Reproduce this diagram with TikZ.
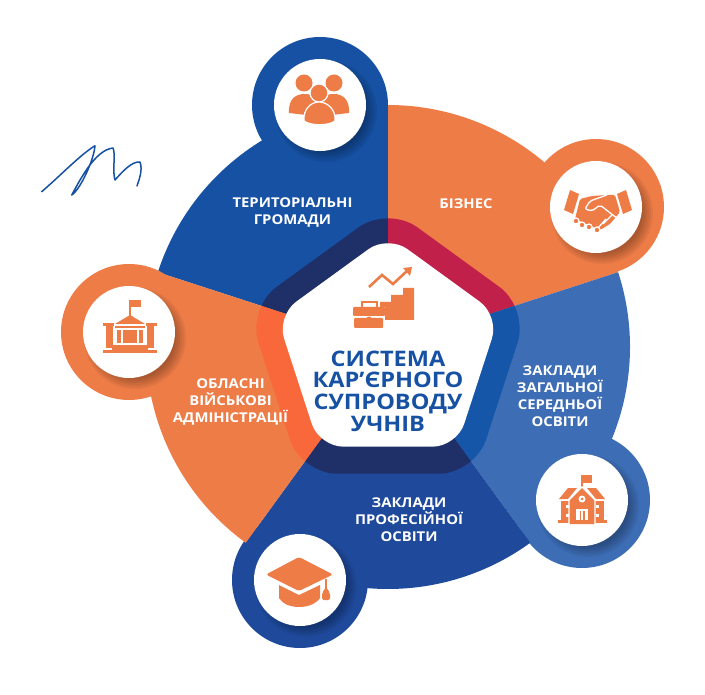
\documentclass[tikz,border=0pt]{standalone}
\usepackage{fontspec}
\setmainfont{Open Sans}[BoldFeatures={FakeStretch=1.1}]
\usetikzlibrary{math}
\definecolor{orangeS}{HTML}{EE7C47}
\definecolor{blueT}{HTML}{1651A3}
\definecolor{blueR}{HTML}{3D6DB5}
\definecolor{blueB}{HTML}{1F4A9C}
\definecolor{bandDark}{HTML}{1F3068}
\definecolor{bandRed}{HTML}{C0204A}
\definecolor{bandBlue}{HTML}{1656A8}
\definecolor{bandOrange}{HTML}{F9683A}
\tikzstyle{lbl} = [text=white, align=center, inner sep=0mm, font=\bfseries\fontsize{13.5}{17}\selectfont]
\tikzstyle{title} = [text=blueT, align=center, inner sep=0mm, font=\bfseries\fontsize{21.4}{21.7}\selectfont]
\tikzstyle{ico} = [fill=orangeS]
\tikzstyle{gap} = [draw=white, line width=1.2pt]
\newcommand{\penta}[1]{(-90:#1) -- (-18:#1) -- (54:#1) -- (126:#1) -- (198:#1) -- cycle}

\begin{document}
\begin{tikzpicture}[x=1pt, y=-1pt]
    \useasboundingbox (0,0) rectangle (705,695);

    % sectors of the wheel, angles run clockwise on the page because y is flipped
    \foreach \a/\b/\bx/\by/\c in {-90/-162/320/105/blueT, -18/-90/596/207/orangeS, 54/-18/582/500/blueR, 126/54/300/580/blueB, 198/126/129/332/orangeS} {
        \fill[\c] (388,347) -- ++(\a:242) arc[start angle=\a, end angle=\b, radius=242] -- cycle;
        \fill[\c] (\bx,\by) circle (68);
    }

    % white discs with their soft shadow
    \foreach \bx/\by in {320/105, 596/207, 582/500, 300/580, 129/332} {
        \foreach \r in {41,43,...,51}
            \fill[black, opacity=.05] (\bx+6,\by+6) circle (\r);
        \fill[white] (\bx,\by) circle (46);
    }

    % band round the centre
    \begin{scope}[shift={(388,354)}]
        \clip[rounded corners=36] \penta{148};
        \foreach \a/\b/\c in {-90/-162/bandDark, -18/-90/bandRed, 54/-18/bandBlue, 126/54/bandDark, 198/126/bandOrange}
            \fill[\c] (0,-7) -- ++(\a:260) arc[start angle=\a, end angle=\b, radius=260] -- cycle;
    \end{scope}
    \fill[white, rounded corners=24, shift={(388,352)}] \penta{117};

    % centre icon
    \fill[ico] (385,320) -- (414,320) -- (414,288) -- (403,288) -- (403,295) -- (391,295) -- (391,302) -- (380,302) -- (380,307) -- (385,307) -- cycle;
    \draw[orangeS, line width=2.6pt] (369,287) -- (382,275) -- (393,284) -- (407,271);
    \fill[ico] (403,268) -- (412,267) -- (410,276) -- cycle;
    \draw[orangeS, line width=1.6pt] (362,307) -- (362,302) -- (377,302) -- (377,307);
    \fill[ico, rounded corners=1] (353,307) rectangle (385,316);
    \fill[ico, rounded corners=1] (354,318) rectangle (383,328);
    \fill[ico] (369,319) circle (2.5);

    % people
    \begin{scope}[shift={(320,105)}]
        \fill[ico] (-16,-22) circle (8.5);
        \fill[ico] (14,-22) circle (8.5);
        \fill[ico] (-31,8) .. controls (-32,-7) and (-23,-11) .. (-16,-11) .. controls (-8,-11) and (-2,-8) .. (0,0) -- (-14,10) -- cycle;
        \fill[ico] (29,8) .. controls (30,-7) and (21,-11) .. (14,-11) .. controls (6,-11) and (0,-8) .. (-2,0) -- (12,10) -- cycle;
        \draw[ico, gap] (-1,-12) circle (9);
        \draw[ico, gap] (-16,16) .. controls (-17,4) and (-9,-3) .. (-1,-3) .. controls (7,-3) and (16,4) .. (15,16) .. controls (8,21) and (-9,21) .. (-16,16) -- cycle;
    \end{scope}

    % handshake
    \begin{scope}[shift={(596,207)}]
        \fill[ico] (-26,-17) -- (-17,-13) -- (-23,7) -- (-32,3) -- cycle;
        \fill[ico] (21,-13) -- (30,-17) -- (36,3) -- (27,7) -- cycle;
        \fill[ico, rounded corners=1.5] (-16,-8) -- (-4,-11) -- (11,-12) -- (19,-12) -- (24,5) -- (14,17) -- (4,23) -- (-21,12) -- cycle;
        \draw[white, line width=1.3pt, rounded corners=2] (11,-12) -- (-6,-6) -- (-11,2) -- (-4,4) -- (4,-2) -- (22,12);
        \draw[white, line width=1.3pt] (7,17) -- (16,8) (1,22) -- (10,12);
        \foreach \x/\y in {-20/14, -14/18, -7/20, 1/23}
            \draw[ico, gap] (\x,\y) circle (3);
    \end{scope}

    % school
    \begin{scope}[shift={(582,500)}]
        \draw[orangeS, line width=1.4pt] (0,-25) -- (0,-11);
        \fill[ico] (0,-25) rectangle (10,-17);
        \fill[ico] (-23,-1) -- (-14,-12) -- (-5,-12) -- (-14,-1) -- cycle;
        \fill[ico] (23,-1) -- (14,-12) -- (5,-12) -- (14,-1) -- cycle;
        \fill[ico] (-21,1) rectangle (22,21);
        \fill[ico] (-24,20) rectangle (25,23);
        \draw[ico, gap] (-13,24) -- (-13,0) -- (0,-13) -- (13,0) -- (13,24);
        \fill[white] (0,-1) circle (3.5);
        \fill[ico] (0,-1) circle (1.5);
        \fill[white] (-6,9) rectangle (6,20);
        \fill[ico] (-2.5,11) rectangle (-1,20);
        \fill[ico] (1,11) rectangle (2.5,20);
        \foreach \x/\y in {-15/6, -15/15, 15/6, 15/15}
            \fill[white] (\x-1.5,\y-1.5) rectangle (\x+1.5,\y+1.5);
    \end{scope}

    % cap
    \begin{scope}[shift={(300,580)}]
        \fill[ico, rounded corners=2.5] (-1,-23) -- (33,-5.5) -- (-1,11) -- (-34,-5.5) -- cycle;
        \fill[ico] (-21,5) -- (-1,15) -- (20,5) -- (20,18) .. controls (12,30) and (-14,30) .. (-21,18) -- cycle;
        \draw[orangeS, line width=1.5pt] (26,-1) -- (26,10);
        \fill[ico, rounded corners=2] (26,7) -- (30,13) -- (30,20) -- (22,20) -- (22,13) -- cycle;
    \end{scope}

    % government building
    \begin{scope}[shift={(129,332)}]
        \fill[ico] (0,-32) rectangle (12,-25);
        \draw[orangeS, line width=1.4pt] (1,-32) -- (1,-15);
        \fill[ico] (-14,-8) -- (1,-17) -- (16,-8) -- cycle;
        \fill[ico] (-14,-6) rectangle (16,-4);
        \fill[ico] (-26,-9) rectangle (-15,-6);
        \fill[ico] (-23,-6) rectangle (-16,16);
        \fill[ico] (17,-9) rectangle (28,-6);
        \fill[ico] (18,-6) rectangle (25,16);
        \fill[ico] (-6,-2) rectangle (8,11);
        \fill[ico] (-12,-2) rectangle (-8,11);
        \fill[ico] (10,-2) rectangle (14,11);
        \fill[ico] (-17,13) rectangle (19,18);
        \fill[ico] (-26,18) rectangle (28,21);
    \end{scope}

    % labels
    \node[lbl] (terytorii) at (292.5,212.5) {ТЕРИТОРІАЛЬНІ\\ГРОМАДИ};
    \node[lbl] (biznes) at (466,204) {БІЗНЕС};
    \node[lbl] (zahalni) at (560,396) {ЗАКЛАДИ\\ЗАГАЛЬНОЇ\\СЕРЕДНЬОЇ\\ОСВІТИ};
    \node[lbl] (profesiini) at (409,520) {ЗАКЛАДИ\\ПРОФЕСІЙНОЇ\\ОСВІТИ};
    \node[lbl] (oblasni) at (230.5,402) {ОБЛАСНІ\\ВІЙСЬКОВІ\\АДМІНІСТРАЦІЇ};
    \node[title] (systema) at (388,391) {СИСТЕМА\\КАР’ЄРНОГО\\СУПРОВОДУ\\УЧНІВ};

    % signature
    \draw[blueT, line width=1.5pt, line cap=round, line join=round] (41.7,191.7) .. controls (60,176) and (80,155) .. (95,145.7) .. controls (94,160) and (80,190) .. (71.7,195) .. controls (80,180) and (95,150) .. (113,148) .. controls (116,155) and (112,170) .. (115,180) .. controls (122,172) and (132,161) .. (140,162) .. controls (143,170) and (139,180) .. (137,186);
\end{tikzpicture}
\end{document}
